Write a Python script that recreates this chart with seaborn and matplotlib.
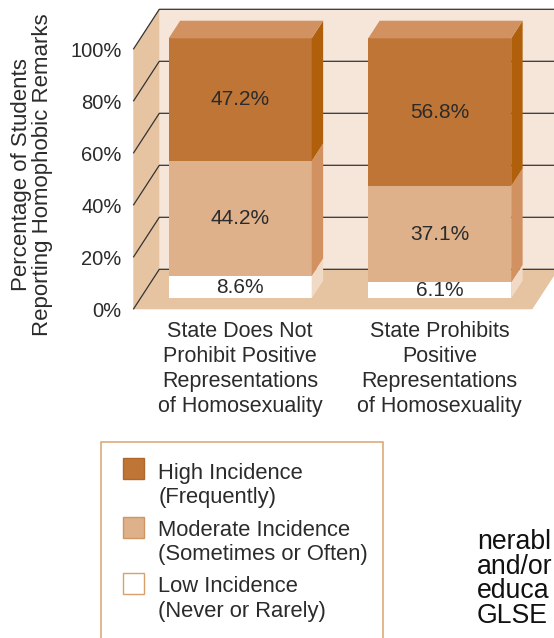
import matplotlib
matplotlib.use("Agg")
import matplotlib.pyplot as plt
from matplotlib.patches import Polygon, Rectangle
import pandas as pd
import seaborn as sns

# ---- data -------------------------------------------------------------
categories = [
    "State Does Not\nProhibit Positive\nRepresentations\nof Homosexuality",
    "State Prohibits\nPositive\nRepresentations\nof Homosexuality",
]
low_incidence = [8.6, 6.1]
moderate_incidence = [44.2, 37.1]
high_incidence = [47.2, 56.8]
series_labels = [
    "High Incidence\n(Frequently)",
    "Moderate Incidence\n(Sometimes or Often)",
    "Low Incidence\n(Never or Rarely)",
]
y_ticks = [0, 20, 40, 60, 80, 100]
y_tick_labels = ["0%", "20%", "40%", "60%", "80%", "100%"]
y_title = "Percentage of Students\nReporting Homophobic Remarks"
body_lines = ["nerabl", "and/or", "educa", "GLSE"]

# ---- style ------------------------------------------------------------
sns.set_style("white")
plt.rcParams["font.family"] = ["Liberation Sans", "DejaVu Sans"]

TEXT = "#2b2b2b"
HIGH_FRONT, HIGH_TOP, HIGH_SIDE = "#bf7535", "#d29161", "#b05f0b"
MOD_FRONT, MOD_SIDE = "#dfb18a", "#d29161"
LOW_FRONT, LOW_SIDE = "#ffffff", "#f1dac5"
WALL_BACK = "#f6e6da"
WALL_SIDE = "#e6c4a2"
GRID = "#333333"
LEGEND_EDGE = "#d9a36f"

W, H = 554, 638
fig = plt.figure(figsize=(W / 100, H / 100), dpi=100)


def fx(px):
    return px / W


def fy(py):
    return 1 - py / H


# front plane of the box (pixels)
LEFT, RIGHT, TOP, BOTTOM = 133.3, 532.3, 49.3, 309.3
PX_X = (RIGHT - LEFT) / 2          # pixels per category
PX_Y = (BOTTOM - TOP) / 100        # pixels per percent
DEPTH_PX = (26.0, 40.0)            # full depth of the box
BAR_FRONT = 0.275                  # depth of the bar front faces
BAR_DEPTH = 0.44                   # thickness of the bars
BAR_WIDTH = 143 / PX_X

DX, DY = DEPTH_PX[0] / PX_X, DEPTH_PX[1] / PX_Y
BDX, BDY = BAR_DEPTH * DX, BAR_DEPTH * DY

# ---- box: walls, floor and grid -------------------------------------------
ax = fig.add_axes([fx(LEFT), fy(BOTTOM), (RIGHT - LEFT) / W, (BOTTOM - TOP) / H])
ax.set_xlim(-0.5, 1.5)
ax.set_ylim(0, 100)
ax.patch.set_visible(False)
for s in ax.spines.values():
    s.set_visible(False)

x0, x1 = -0.5, 1.5
ax.add_patch(Rectangle((x0 + DX, DY), (x1 - x0) + 0.2, 100, facecolor=WALL_BACK,
                       edgecolor="none", clip_on=False, zorder=0.2))
ax.add_patch(Polygon([(x0, 0), (x0, 100), (x0 + DX, 100 + DY), (x0 + DX, DY)],
                     closed=True, facecolor=WALL_SIDE, edgecolor="none",
                     clip_on=False, zorder=0.3))
ax.add_patch(Polygon([(x0, 0), (x1, 0), (x1 + DX, DY), (x0 + DX, DY)],
                     closed=True, facecolor=WALL_SIDE, edgecolor="none",
                     clip_on=False, zorder=0.3))
for t in y_ticks:
    ax.plot([x0, x0 + DX, x1 + DX + 0.2], [t, t + DY, t + DY], color=GRID,
            lw=0.9, clip_on=False, zorder=0.4, solid_capstyle="butt")

ax.set_yticks(y_ticks, y_tick_labels)
ax.tick_params(axis="y", length=2.9, width=0.8, color=GRID, pad=5.5,
               labelsize=14.5, labelcolor=TEXT)
ax.set_xticks([-0.5, 0.5, 1.5], ["", "", ""])
ax.tick_params(axis="x", length=5, width=0.8, color="#707070")

# ---- stacked bars, drawn at mid-depth ----------------------------------
bx = fig.add_axes([fx(LEFT + BAR_FRONT * DEPTH_PX[0]), fy(BOTTOM - BAR_FRONT * DEPTH_PX[1]),
                   (RIGHT - LEFT) / W, (BOTTOM - TOP) / H])
df = pd.DataFrame({
    "category": categories,
    "low": low_incidence,
    "moderate": moderate_incidence,
    "high": high_incidence,
})
df["low_mod"] = df["low"] + df["moderate"]
df["total"] = df["low_mod"] + df["high"]

for col, color in [("total", HIGH_FRONT), ("low_mod", MOD_FRONT), ("low", LOW_FRONT)]:
    sns.barplot(data=df, x="category", y=col, color=color, saturation=1,
                width=BAR_WIDTH, errorbar=None, linewidth=0, ax=bx, zorder=2)

bx.set_xlim(-0.5, 1.5)
bx.set_ylim(0, 100)
bx.set_xlabel("")
bx.set_ylabel("")
bx.patch.set_visible(False)
for s in bx.spines.values():
    s.set_visible(False)
bx.tick_params(axis="y", left=False, labelleft=False)
bx.tick_params(axis="x", length=0, pad=16, labelsize=15.5, labelcolor=TEXT)
for lbl in bx.get_xticklabels():
    lbl.set_linespacing(1.27)

# side and top faces plus value labels
for i, row in df.iterrows():
    xl, xr = i - BAR_WIDTH / 2, i + BAR_WIDTH / 2
    bounds = [0, row["low"], row["low_mod"], row["total"]]
    values = [row["low"], row["moderate"], row["high"]]
    sides = [LOW_SIDE, MOD_SIDE, HIGH_SIDE]
    for j in range(3):
        y0, y1 = bounds[j], bounds[j + 1]
        bx.add_patch(Polygon([(xr, y0), (xr + BDX, y0 + BDY), (xr + BDX, y1 + BDY), (xr, y1)],
                             closed=True, facecolor=sides[j], edgecolor="none",
                             clip_on=False, zorder=2.5))
        bx.text(i, (y0 + y1) / 2, f"{values[j]:.1f}%", ha="center", va="center",
                fontsize=15, color=TEXT, zorder=4)
    top = bounds[-1]
    bx.add_patch(Polygon([(xl, top), (xr, top), (xr + BDX, top + BDY), (xl + BDX, top + BDY)],
                         closed=True, facecolor=HIGH_TOP, edgecolor="none",
                         clip_on=False, zorder=2.5))

fig.text(fx(32), fy(175), y_title, rotation=90, ha="center", va="center",
         fontsize=16, color=TEXT, linespacing=1.0, multialignment="center")

# ---- legend and surrounding page text ------------------------------------
lg = fig.add_axes([0, 0, 1, 1])
lg.set_xlim(0, W)
lg.set_ylim(H, 0)
lg.axis("off")
lg.add_patch(Rectangle((100.7, 442.3), 282.6, 230, facecolor="white",
                       edgecolor=LEGEND_EDGE, lw=1.1))
swatches = [(HIGH_FRONT, "#b0672a"), (MOD_FRONT, "#cf9460"), (LOW_FRONT, "#d9a06c")]
swatch_top = [458.3, 517.3, 573.3]
text_top = [462.5, 519.5, 576.5]
for (fc, ec), top, ttop, label in zip(swatches, swatch_top, text_top, series_labels):
    lg.add_patch(Rectangle((122.8, top), 21, 20.5, facecolor=fc, edgecolor=ec, lw=1.0))
    lg.text(158.3, ttop, label, ha="left", va="top", fontsize=15.8,
            color=TEXT, linespacing=1.2)

for line, base in zip(body_lines, [549, 574, 598.5, 623]):
    lg.text(477, base, line, ha="left", va="baseline", fontsize=19.2, color="#111111")

fig.savefig("out.png", dpi=100)
